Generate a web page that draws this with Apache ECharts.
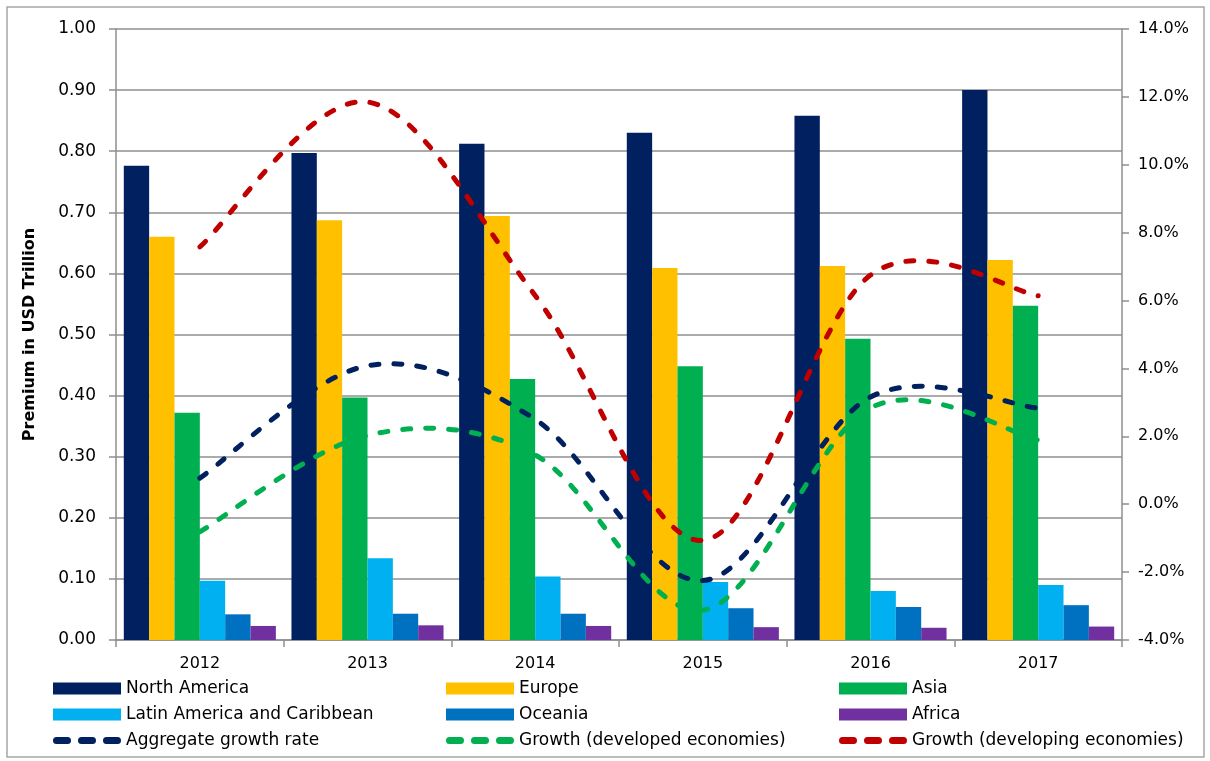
<!DOCTYPE html>
<html>
<head>
<meta charset="utf-8">
<script src="https://cdn.jsdelivr.net/npm/echarts@6/dist/echarts.min.js"></script>
<style>
  html, body { margin: 0; padding: 0; background: #ffffff; }
  #chart { width: 1210px; height: 761px; }
</style>
</head>
<body>
<div id="chart"></div>
<script>
// Insurance premium by region (USD trillion) and growth rates (%)
const years = ['2012', '2013', '2014', '2015', '2016', '2017'];

const northAmerica = [0.776, 0.797, 0.812, 0.830, 0.858, 0.900];
const europe       = [0.660, 0.687, 0.694, 0.609, 0.612, 0.622];
const asia         = [0.372, 0.397, 0.427, 0.448, 0.493, 0.547];
const latinAmerica = [0.097, 0.134, 0.104, 0.095, 0.080, 0.090];
const oceania      = [0.042, 0.043, 0.043, 0.052, 0.054, 0.057];
const africa       = [0.023, 0.024, 0.023, 0.021, 0.020, 0.022];

const aggregateGrowth  = [0.77, 4.08, 2.50, -2.25, 3.16, 2.83];
const developedGrowth  = [-0.81, 2.03, 1.45, -3.12, 2.84, 1.89];
const developingGrowth = [7.58, 11.85, 6.15, -1.07, 6.75, 6.14];

const FONT = 'DejaVu Sans';
const GRID_GRAY = '#8f8f8f';

// legend key for the dashed growth lines: three rounded dashes
const DASH_ICON = 'path://' +
  'M3.5,0H14.5A3.5,3.5 0 0 1 14.5,7H3.5A3.5,3.5 0 0 1 3.5,0Z' +
  'M28.5,0H39.5A3.5,3.5 0 0 1 39.5,7H28.5A3.5,3.5 0 0 1 28.5,0Z' +
  'M53.5,0H64.5A3.5,3.5 0 0 1 64.5,7H53.5A3.5,3.5 0 0 1 53.5,0Z';

const chart = echarts.init(document.getElementById('chart'), null, { renderer: 'canvas' });

function barSeries(name, data, color) {
  return {
    name: name,
    type: 'bar',
    data: data,
    yAxisIndex: 0,
    barGap: '0%',
    barCategoryGap: '9.3%',
    itemStyle: { color: color }
  };
}

// Growth curves: a Catmull-Rom spline through the yearly points,
// positioned with the axes' own coordinate conversion.
function growthSeries(name, data, color) {
  return {
    name: name,
    type: 'custom',
    coordinateSystem: 'cartesian2d',
    yAxisIndex: 1,
    data: data.map((v, i) => [i, v]),
    encode: { x: 0, y: 1 },
    itemStyle: { color: color },
    z: 3,
    silent: true,
    renderItem: function (params, api) {
      if (params.dataIndex !== 0) return null;
      const pts = data.map((v, i) => api.coord([i, v]));
      const n = pts.length;
      let d = 'M' + pts[0][0] + ',' + pts[0][1];
      for (let i = 0; i < n - 1; i++) {
        const p0 = pts[Math.max(i - 1, 0)];
        const p1 = pts[i];
        const p2 = pts[i + 1];
        const p3 = pts[Math.min(i + 2, n - 1)];
        const c1x = p1[0] + (p2[0] - p0[0]) / 6;
        const c1y = p1[1] + (p2[1] - p0[1]) / 6;
        const c2x = p2[0] - (p3[0] - p1[0]) / 6;
        const c2y = p2[1] - (p3[1] - p1[1]) / 6;
        d += 'C' + c1x + ',' + c1y + ' ' + c2x + ',' + c2y + ' ' + p2[0] + ',' + p2[1];
      }
      return {
        type: 'path',
        shape: { pathData: d },
        style: { fill: 'none', stroke: color, lineWidth: 5, lineDash: [8, 15], lineCap: 'round' }
      };
    }
  };
}

function legendColumn(left, bars, line) {
  return {
    orient: 'vertical',
    left: left,
    top: 675,
    itemWidth: 68,
    itemHeight: 12,
    itemGap: 9,
    selectedMode: false,
    textStyle: { fontFamily: FONT, fontSize: 17, color: '#000' },
    data: bars.map(n => ({ name: n, icon: 'rect' })).concat([{ name: line, icon: DASH_ICON }])
  };
}

const option = {
  animation: false,
  backgroundColor: '#ffffff',
  graphic: [{
    type: 'rect',
    shape: { x: 7, y: 7, width: 1197, height: 750 },
    style: { fill: 'none', stroke: '#a6a6a6', lineWidth: 1.5 },
    silent: true
  }],
  grid: { left: 116, right: 88, top: 29, bottom: 121, containLabel: false },
  legend: [
    legendColumn(48, ['North America', 'Latin America and Caribbean'], 'Aggregate growth rate'),
    legendColumn(441, ['Europe', 'Oceania'], 'Growth (developed economies)'),
    legendColumn(834, ['Asia', 'Africa'], 'Growth (developing economies)')
  ],
  xAxis: {
    type: 'category',
    data: years,
    boundaryGap: true,
    axisLine: { show: true, lineStyle: { color: GRID_GRAY, width: 1.5 } },
    axisTick: { show: true, length: 7, alignWithLabel: false, lineStyle: { color: GRID_GRAY, width: 1.5 } },
    axisLabel: { fontFamily: FONT, fontSize: 16, color: '#000', margin: 16 }
  },
  yAxis: [{
    type: 'value',
    min: 0,
    max: 1,
    interval: 0.1,
    position: 'left',
    name: 'Premium in USD Trillion',
    nameLocation: 'middle',
    nameGap: 78,
    nameRotate: 90,
    nameTextStyle: { fontFamily: FONT, fontSize: 16, fontWeight: 'bold', color: '#000' },
    axisLine: { show: true, lineStyle: { color: GRID_GRAY, width: 1.5 } },
    axisTick: { show: true, length: 7, lineStyle: { color: GRID_GRAY, width: 1.5 } },
    splitLine: { show: true, lineStyle: { color: GRID_GRAY, width: 1.5 } },
    axisLabel: {
      fontFamily: FONT, fontSize: 17, color: '#000', margin: 20,
      formatter: v => v.toFixed(2)
    }
  }, {
    type: 'value',
    min: -4,
    max: 14,
    interval: 2,
    position: 'right',
    axisLine: { show: true, lineStyle: { color: GRID_GRAY, width: 1.5 } },
    axisTick: { show: true, length: 7, lineStyle: { color: GRID_GRAY, width: 1.5 } },
    splitLine: { show: false },
    axisLabel: {
      fontFamily: FONT, fontSize: 16, color: '#000', margin: 16,
      formatter: v => v.toFixed(1) + '%'
    }
  }],
  series: [
    barSeries('North America', northAmerica, '#002060'),
    barSeries('Europe', europe, '#FFC000'),
    barSeries('Asia', asia, '#00B050'),
    barSeries('Latin America and Caribbean', latinAmerica, '#00B0F0'),
    barSeries('Oceania', oceania, '#0070C0'),
    barSeries('Africa', africa, '#7030A0'),
    growthSeries('Aggregate growth rate', aggregateGrowth, '#002060'),
    growthSeries('Growth (developed economies)', developedGrowth, '#00B050'),
    growthSeries('Growth (developing economies)', developingGrowth, '#C00000')
  ]
};

chart.setOption(option);
</script>
</body>
</html>
